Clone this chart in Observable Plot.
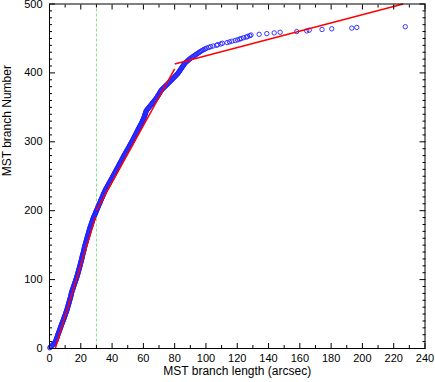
<!DOCTYPE html>
<html>
<head>
<meta charset="utf-8">
<script src="https://cdn.jsdelivr.net/npm/d3@7"></script>
<script src="https://cdn.jsdelivr.net/npm/@observablehq/plot@0.6"></script>
<style>
  html, body { margin: 0; padding: 0; background: white; }
</style>
</head>
<body>
<div id="chart"></div>
<script>
// Sorted MST branch lengths (arcsec); the rank (branch number) is the position in the list.
const branchLength = [
  0.2,0.6,1.0,1.5,2.0,2.4,2.8,3.2,3.5,3.8,
  4.0,4.2,4.3,4.5,4.7,4.8,5.0,5.1,5.2,5.4,5.5,
  5.7,5.9,6.0,6.2,6.4,6.5,6.7,6.8,7.0,7.1,7.3,7.5,7.6,7.8,
  8.0,8.1,8.3,8.5,8.6,8.8,9.0,9.1,9.3,9.4,9.6,9.8,9.9,10.1,10.2,10.4,10.5,10.7,10.8,11.0,
  11.1,11.3,11.4,11.5,11.6,11.8,11.9,12.0,12.1,12.3,12.4,12.5,12.6,12.8,12.9,13.0,13.1,13.2,13.4,13.5,13.6,13.7,13.8,13.9,14.0,14.1,14.2,14.4,14.5,
  14.7,14.8,15.0,15.1,15.3,15.4,15.6,15.7,15.9,16.0,16.2,16.3,16.5,16.6,16.8,16.9,17.1,17.2,17.4,17.5,
  17.6,17.7,17.9,18.0,18.1,18.2,18.4,18.5,18.6,18.7,18.9,19.0,19.1,19.2,19.3,19.5,19.6,19.7,19.8,19.9,20.0,20.1,20.3,20.4,
  20.5,20.6,20.7,20.8,20.9,21.0,21.1,21.2,21.3,21.5,21.6,21.7,21.8,21.9,22.0,22.1,22.2,22.3,22.4,22.5,22.6,22.7,22.9,23.0,
  23.1,23.2,23.4,23.5,23.6,23.7,23.9,24.0,24.1,24.2,24.4,24.5,24.6,24.7,24.9,25.0,25.1,25.2,25.4,25.5,25.6,25.7,25.9,26.0,
  26.2,26.3,26.5,26.6,26.8,26.9,27.1,27.2,27.4,27.5,27.7,27.8,28.0,28.1,28.3,
  28.5,28.7,28.9,29.1,29.3,29.5,29.6,29.8,30.0,
  30.2,30.4,30.6,30.8,30.9,31.1,31.3,31.5,31.7,31.9,32.1,32.3,32.5,32.6,32.8,33.0,33.2,33.4,33.6,33.8,34.0,34.2,34.3,34.5,34.7,34.9,35.1,35.3,35.5,35.7,
  35.9,36.2,36.4,36.7,36.9,37.2,37.4,37.7,37.9,38.1,38.4,38.6,38.9,39.1,39.4,39.6,39.9,40.1,40.3,40.6,40.8,41.0,41.3,41.5,
  41.7,42.0,42.2,42.5,42.7,42.9,43.2,43.4,43.7,43.9,44.1,44.4,44.6,44.8,45.1,45.3,45.6,45.8,46.0,46.3,46.5,46.7,47.0,47.2,
  47.4,47.7,47.9,48.2,48.4,48.7,48.9,49.2,49.4,49.7,49.9,50.2,50.4,50.7,50.9,51.2,51.4,51.6,51.9,52.1,52.4,52.6,52.9,53.1,
  53.3,53.6,53.8,54.0,54.2,54.5,54.7,54.9,55.1,55.4,55.6,55.8,56.0,56.3,56.5,56.7,56.9,57.2,57.4,57.6,57.8,58.1,58.3,58.6,58.8,
  59.0,59.2,59.4,59.6,59.8,60.0,60.2,60.4,60.5,60.7,60.8,61.0,
  61.1,61.3,61.4,61.5,61.7,61.8,
  62.2,62.5,62.9,63.2,63.6,64.0,
  64.3,64.7,65.0,65.4,65.7,66.1,66.4,66.8,67.1,67.5,67.8,
  68.3,68.5,68.8,69.1,69.3,69.6,69.9,70.2,70.4,70.7,71.0,71.2,71.5,
  71.9,72.4,72.8,73.3,73.7,74.2,74.6,75.1,75.5,76.0,
  76.4,76.9,77.3,77.7,78.1,78.6,79.0,79.4,79.9,80.3,80.7,81.1,81.6,82.0,
  82.3,82.6,82.9,83.2,83.5,83.8,84.1,84.4,84.7,85.0,85.3,85.6,85.9,86.2,86.5,
  87.0,87.5,88.0,88.5,89.0,89.5,90.0,
  90.6,91.3,91.9,92.6,93.2,93.8,94.5,95.1,95.8,96.4,
  97.2,98.0,98.8,99.6,
  100.5,101.8,103.0,104.5,106.8,107.5,109.5,110.5,113.5,115.0,116.6,118.7,120.2,121.6,122.5,124.0,
  125.8,126.6,128.0,128.8,134.0,138.9,143.6,147.4,158.0,164.4,166.0,174.2,180.4,193.2,196.4,227.4
];

// Broken-line fit segments (start / end points)
const fitX1 = [3.7, 30, 80];
const fitY1 = [0, 200, 413];
const fitX2 = [29.5, 80, 226];
const fitY2 = [191, 406, 500];

// Vertical reference line
const refLength = [30];

// Ticks
const xLabelTicks = d3.range(0, 241, 20);
const xMinorTicks = d3.range(10, 240, 20);
const yLabelTicks = d3.range(0, 501, 100);
const yMinorTicks = d3.range(0, 501, 10).filter(v => v % 100 !== 0);

const xTitle = "MST branch length (arcsec)";
const yTitle = "MST branch Number";

const blank = () => "";

const chart = Plot.plot({
  width: 435,
  height: 382,
  marginLeft: 49,
  marginRight: 10.5,
  marginTop: 3.5,
  marginBottom: 34,
  x: { domain: [0, 240] },
  y: { domain: [0, 500] },
  style: { fontFamily: "'Liberation Sans', Arial, Helvetica, sans-serif", fontSize: "11px", color: "black", background: "white" },
  marks: [
    Plot.ruleX(refLength, { x: d => d, stroke: "#86dc86", strokeWidth: 1, strokeDasharray: "3,2" }),
    Plot.dot(branchLength, { x: d => d, y: (d, i) => i + 1, r: 2.2, stroke: "#2222ff", strokeWidth: 0.9, fill: "none" }),
    Plot.link(fitX1, { x1: fitX1, y1: fitY1, x2: fitX2, y2: fitY2, stroke: "#ff0000", strokeWidth: 1.5 }),
    Plot.frame({ stroke: "black", strokeWidth: 1 }),
    // inward ticks, bottom & top
    Plot.axisX(xLabelTicks, { anchor: "bottom", tickSize: -5, tickFormat: blank, label: null }),
    Plot.axisX(xMinorTicks, { anchor: "bottom", tickSize: -3, tickFormat: blank, label: null }),
    Plot.axisX(xLabelTicks, { anchor: "top", tickSize: -5, tickFormat: blank, label: null }),
    Plot.axisX(xMinorTicks, { anchor: "top", tickSize: -3, tickFormat: blank, label: null }),
    // inward ticks, left & right
    Plot.axisY(yLabelTicks, { anchor: "left", tickSize: -6, tickFormat: blank, label: null }),
    Plot.axisY(yMinorTicks, { anchor: "left", tickSize: -3, tickFormat: blank, label: null }),
    Plot.axisY(yLabelTicks, { anchor: "right", tickSize: -6, tickFormat: blank, label: null }),
    Plot.axisY(yMinorTicks, { anchor: "right", tickSize: -3, tickFormat: blank, label: null }),
    // tick labels
    Plot.axisX(xLabelTicks, { anchor: "bottom", tickSize: 0, tickPadding: 6, label: null, fontSize: 11 }),
    Plot.axisY(yLabelTicks, { anchor: "left", tickSize: 0, tickPadding: 7, label: null, fontSize: 11 }),
    // axis titles
    Plot.text([xTitle], { text: d => d, frameAnchor: "bottom", dy: 26, fontSize: 12, fill: "black" }),
    Plot.text([yTitle], { text: d => d, frameAnchor: "left", rotate: -90, dx: -42, fontSize: 12, fill: "black" })
  ]
});

document.getElementById("chart").appendChild(chart);
</script>
</body>
</html>
